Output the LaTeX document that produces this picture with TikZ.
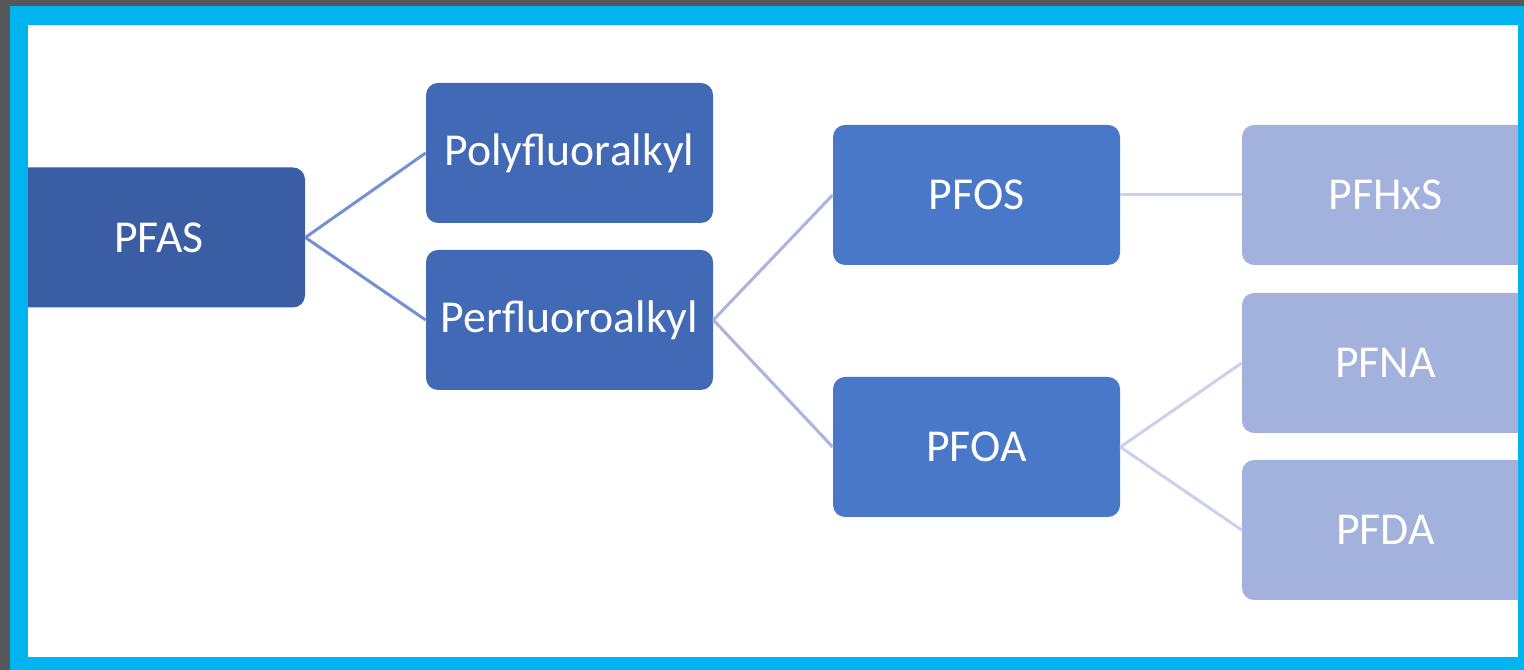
\documentclass[tikz,border=0pt]{standalone}
\usepackage{fontspec}
\setmainfont{Carlito}
\usepackage{xcolor}
\usepackage{tikz}
\usetikzlibrary{positioning}

\definecolor{framegrey}{HTML}{575757}
\definecolor{framecyan}{HTML}{00B4F0}
\definecolor{rootblue}{HTML}{3A5DA4}
\definecolor{midblue}{HTML}{4169B5}
\definecolor{subblue}{HTML}{4A78C8}
\definecolor{leafblue}{HTML}{A3B1DD}
\definecolor{linea}{HTML}{7390D2}
\definecolor{lineb}{HTML}{A9B5DF}
\definecolor{linec}{HTML}{CBD1EB}

\begin{document}
\begin{tikzpicture}[box/.style={rounded corners=2.4mm, minimum width=57.4mm, minimum height=28mm, inner sep=0pt, text=white, font=\fontsize{26}{30}\selectfont},
    link/.style={line width=1.7pt}]
    \useasboundingbox (0,0) rectangle (30.48,13.4);
    \fill[framegrey] (0,0) rectangle (30.48,13.4);
    \fill[framecyan] (0.2,0) rectangle (30.48,13.28);
    \fill[white] (0.56,0.26) rectangle (30.36,12.9);
    \begin{scope}
    \clip (0.56,0.26) rectangle (30.36,12.9);
    \node[box, fill=rootblue, minimum width=58.4mm] (pfas) at (3.18,8.65) {PFAS};
    \node[box, fill=midblue] (poly) at (11.39,10.34) {Polyfluoralkyl};
    \node[box, fill=midblue] (perf) at (11.39,7.0) {Perfluoroalkyl};
    \node[box, fill=subblue] (pfos) at (19.53,9.5) {PFOS};
    \node[box, fill=subblue] (pfoa) at (19.53,4.46) {PFOA};
    \node[box, fill=leafblue] (pfhxs) at (27.71,9.5) {PFHxS};
    \node[box, fill=leafblue] (pfna) at (27.71,6.14) {PFNA};
    \node[box, fill=leafblue] (pfda) at (27.71,2.8) {PFDA};
    \draw[link, linea] (pfas.east) -- (poly.west); \draw[link, linea] (pfas.east) -- (perf.west);
    \draw[link, lineb] (perf.east) -- (pfos.west); \draw[link, lineb] (perf.east) -- (pfoa.west);
    \draw[link, linec] (pfos.east) -- (pfhxs.west);
    \draw[link, linec] (pfoa.east) -- (pfna.west); \draw[link, linec] (pfoa.east) -- (pfda.west);
    \end{scope}
  \end{tikzpicture}
\end{document}
